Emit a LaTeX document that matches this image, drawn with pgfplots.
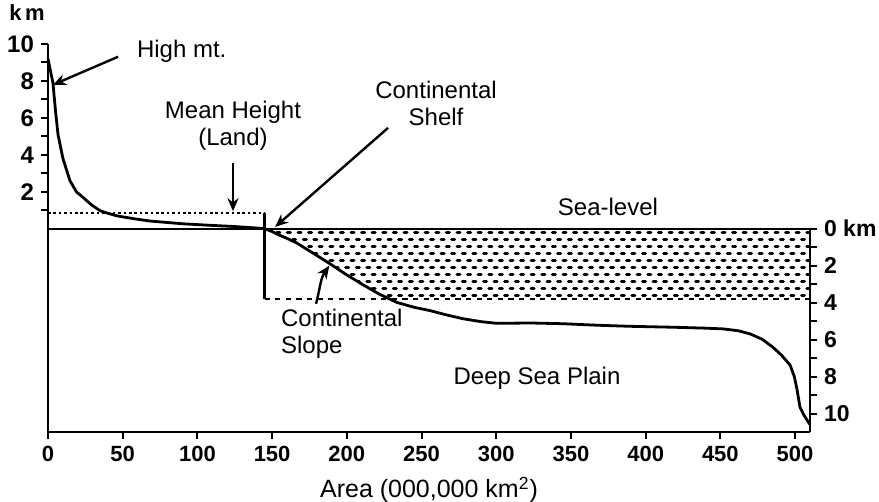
\documentclass[border=0pt]{standalone}
\usepackage{pgfplots}
\pgfplotsset{compat=1.18}
\usepackage{pgfplotstable}
\usepackage{fontspec}
\setmainfont{Liberation Sans}
\usetikzlibrary{arrows.meta,patterns}

\pgfdeclarepatternformonly{seadash}{\pgfqpoint{-1pt}{-1pt}}{\pgfqpoint{6.3pt}{8pt}}{\pgfqpoint{5.3pt}{7pt}}{%
  \pgfsetlinewidth{1.5pt}%
  \pgfsetroundcap
  \pgfpathmoveto{\pgfqpoint{0.6pt}{1.75pt}}\pgfpathlineto{\pgfqpoint{2.1pt}{1.75pt}}%
  \pgfpathmoveto{\pgfqpoint{3.25pt}{5.25pt}}\pgfpathlineto{\pgfqpoint{4.75pt}{5.25pt}}%
  \pgfusepath{stroke}}

\pgfplotstableread{
x y
0 9.2
1.5 8.6
3.3 7.9
5 6.4
6.7 5.1
10 3.8
14.7 2.6
19 2.0
23.4 1.7
29 1.3
34.8 0.98
40 0.84
46 0.7
57 0.55
68 0.42
90 0.27
110 0.18
125 0.12
138 0.05
145 0
150 -0.15
155 -0.35
160 -0.52
166.7 -0.78
177 -1.3
188.8 -1.9
200 -2.5
210.8 -3.03
222 -3.55
233.6 -3.99
245 -4.25
255.7 -4.43
266 -4.65
277.8 -4.87
290 -5.03
300.5 -5.12
322.6 -5.10
344.7 -5.14
367 -5.22
389.6 -5.28
418.4 -5.33
440 -5.38
451.8 -5.42
462 -5.52
469.9 -5.69
478 -5.98
485.3 -6.42
491 -6.85
496.7 -7.38
499.5 -8.0
501.3 -8.69
503.3 -9.66
506 -10.1
510 -10.6
}\hypso

\pgfplotstableread{
x y
145 0
150 -0.15
155 -0.35
160 -0.52
166.7 -0.78
177 -1.3
188.8 -1.9
200 -2.5
210.8 -3.03
222 -3.55
228.6 -3.8
510 -3.8
510 0
}\oceanfill

\begin{document}
\begin{tikzpicture}
\begin{axis}[name=main,
  scale only axis, width=381pt, height=194pt,
  xmin=0, xmax=510, ymin=-11, ymax=10,
  axis x line=bottom, axis y line=left,
  axis line style={-, line width=1.2pt},
  tick style={black, line width=1pt},
  major tick length=3.5pt, minor tick length=3.5pt,
  tick align=outside,
  xtick={0,50,...,500},
  ytick={2,4,6,8,10}, minor ytick={1,3,5,7,9},
  /pgf/number format/assume math mode=true,
  xticklabel style={font=\bfseries\fontsize{11}{13}\selectfont},
  yticklabel style={font=\bfseries\fontsize{12}{14}\selectfont},
  xlabel={Area (000,000 km\textsuperscript{2})},
  xlabel style={font=\fontsize{12.5}{15}\selectfont, at={(axis description cs:0.5,0)}, anchor=center, yshift=-29pt},
  clip=false,
]
\addplot[draw=none, pattern=seadash] table {\oceanfill} -- cycle;
\addplot[line width=1.2pt] coordinates {(0,0) (510,0)};
\addplot[line width=1.2pt, dash pattern=on 1.3pt off 1.4pt] coordinates {(0,0.84) (145,0.84)};
\addplot[line width=1.2pt] coordinates {(145,0.84) (145,-3.8)};
\addplot[line width=1.3pt, dash pattern=on 2.6pt off 2.7pt] coordinates {(145,-3.8) (510,-3.8)};
\addplot[line width=1.4pt] table {\hypso};

\node[font=\bfseries\fontsize{11}{13}\selectfont] at (axis cs:-14,11.73) {k\,m};
\node[anchor=west, font=\fontsize{12}{14}\selectfont] at (axis cs:54.9,9.63) {High mt.};
\draw[line width=1.2pt, -{Stealth[length=6.5pt,width=5.5pt]}] (axis cs:46.9,9.31) -- (axis cs:3.3,7.79);
\node[align=center, font=\fontsize{12}{13.5}\selectfont] at (axis cs:123.8,5.57) {Mean Height\\(Land)};
\draw[line width=1.2pt, -{Stealth[length=6.5pt,width=5.5pt]}] (axis cs:123.8,3.57) -- (axis cs:123.8,0.95);
\node[align=center, font=\fontsize{12}{13.5}\selectfont] at (axis cs:259.7,6.81) {Continental\\Shelf};
\draw[line width=1.2pt, -{Stealth[length=6.5pt,width=5.5pt]}] (axis cs:227.6,5.46) -- (axis cs:152,0.1);
\node[font=\fontsize{12}{14}\selectfont] at (axis cs:374.8,1.16) {Sea-level};
\node[anchor=west, align=left, font=\fontsize{12}{13.5}\selectfont] at (axis cs:151.3,-5.7) {Continental\\Slope};
\draw[line width=1.2pt, -{Stealth[length=6.5pt,width=5.5pt]}] (axis cs:179.4,-4.06) to[out=75,in=235] (axis cs:188.3,-2.0);
\node[font=\fontsize{12}{14}\selectfont] at (axis cs:327.3,-8.1) {Deep Sea Plain};
\end{axis}

\begin{axis}[
  scale only axis, width=381pt, height=101.619pt,
  xmin=0, xmax=510, ymin=-11, ymax=0,
  hide x axis, axis y line=right,
  axis line style={-, line width=1.2pt},
  tick style={black, line width=1pt},
  major tick length=3.5pt, minor tick length=3.5pt,
  tick align=outside,
  ytick={-10,-8,...,0}, yticklabels={10,8,6,4,2,0 km},
  minor ytick={-9,-7,...,-1},
  yticklabel style={anchor=west, font=\bfseries\fontsize{11.5}{14}\selectfont},
]
\end{axis}

\pgfresetboundingbox
\path ([shift={(-24pt,-35pt)}]main.south west) rectangle ([shift={(34.5pt,22pt)}]main.north east);
\end{tikzpicture}
\end{document}
